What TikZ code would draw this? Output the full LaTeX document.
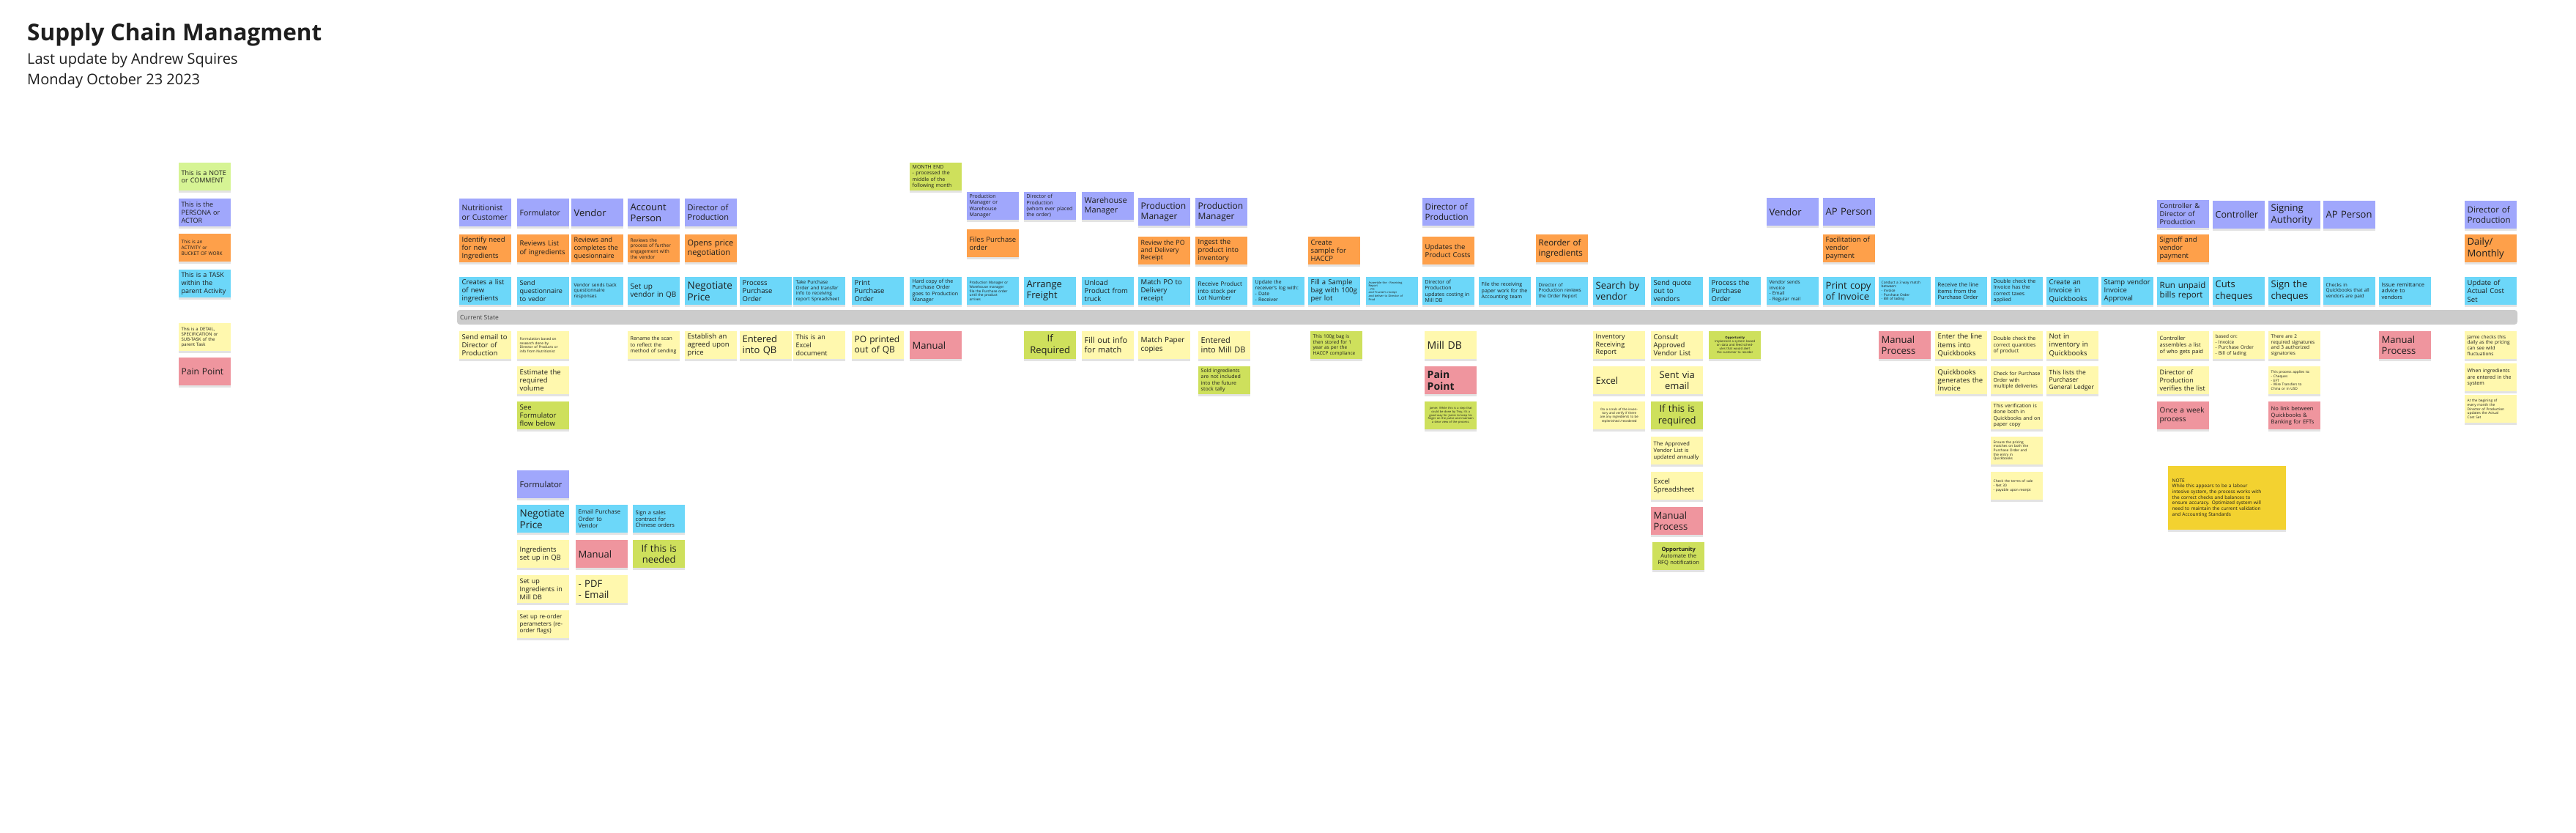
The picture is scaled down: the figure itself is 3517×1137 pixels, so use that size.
\documentclass[tikz,border=0pt]{standalone}
\usepackage{fontspec}
\setmainfont{Open Sans}
\usetikzlibrary{shadows}

\definecolor{personaC}{RGB}{160,167,252}
\definecolor{activityC}{RGB}{254,160,74}
\definecolor{taskC}{RGB}{108,215,249}
\definecolor{detailC}{RGB}{255,248,174}
\definecolor{noteC}{RGB}{206,224,92}
\definecolor{legnoteC}{RGB}{214,244,148}
\definecolor{painC}{RGB}{239,149,158}
\definecolor{barC}{RGB}{204,204,204}
\definecolor{memoC}{RGB}{243,210,48}
\definecolor{inkC}{RGB}{30,30,30}

\newcommand\stickyfont[1]{\fontsize{#1pt}{\dimexpr #1pt*118/100\relax}\selectfont}

\begin{document}
\begin{tikzpicture}[x=1pt,y=-1pt,
  sticky/.style={anchor=north west,text width=64pt,minimum height=38pt,inner xsep=3.5pt,inner ysep=2pt,
    align=left,text=inkC,drop shadow={shadow xshift=0pt,shadow yshift=-2.5pt,opacity=.22}},
  fs/.style={font=\stickyfont{#1}},
  persona/.style={sticky,fill=personaC},
  activity/.style={sticky,fill=activityC},
  task/.style={sticky,fill=taskC},
  detail/.style={sticky,fill=detailC},
  note/.style={sticky,fill=noteC},
  pain/.style={sticky,fill=painC},
  mid/.style={align=center}]
  \useasboundingbox (0,0) rectangle (3517,1137);
  \fill[white] (0,0) rectangle (3517,1137);

  \node[anchor=base west,inner sep=0pt,text=inkC,font=\fontsize{31.5}{31.5}\selectfont\bfseries] (title) at (37,56) {Supply Chain Managment};
  \node[anchor=base west,inner sep=0pt,text=inkC,font=\fontsize{20}{20}\selectfont] (author) at (37,88) {Last update by Andrew Squires};
  \node[anchor=base west,inner sep=0pt,text=inkC,font=\fontsize{20}{20}\selectfont] (date) at (37,116) {Monday October 23 2023};

  % legend
  \node[sticky,fill=legnoteC,fs=9] (lnote) at (244,222) {This is a NOTE\\or COMMENT};
  \node[persona,fs=9] (lpersona) at (244,271) {This is the\\PERSONA or\\ACTOR};
  \node[activity,fs=6.5] (lactivity) at (244,319) {This is an\\ACTIVITY or\\BUCKET OF WORK};
  \node[task,fs=9] (ltask) at (244,368) {This is a TASK\\within the\\parent Activity};
  \node[detail,fs=6] (ldetail) at (244,441) {This is a DETAIL,\\SPECIFICATION or\\SUB-TASK of the\\parent Task};
  \node[pain,fs=12] (lpain) at (244,488) {Pain Point};

  % current state bar
  \fill[barC,rounded corners=4pt] (624,423) rectangle (3437,443);
  \node[anchor=west,inner sep=0pt,text=black!75,font=\stickyfont{8.5}] (state) at (628,433) {Current State};

  % personas
  \node[persona,fs=10.5] (p1) at (627,271) {Nutritionist\\or Customer};
  \node[persona,fs=10.5] (p2) at (706,271) {Formulator};
  \node[persona,fs=13] (p3) at (780,271) {Vendor};
  \node[persona,fs=13] (p4) at (857,271) {Account\\Person};
  \node[persona,fs=11] (p5) at (935,271) {Director of\\Production};
  \node[persona,fs=7] (p10) at (1320,262) {Production\\Manager or\\Warehouse\\Manager};
  \node[persona,fs=7] (p11) at (1398,262) {Director of\\Production\\(whom ever placed\\the order)};
  \node[persona,fs=11] (p12) at (1477,262) {Warehouse\\Manager};
  \node[persona,fs=12] (p13) at (1554,270) {Production\\Manager};
  \node[persona,fs=12] (p14) at (1632,270) {Production\\Manager};
  \node[persona,fs=11.5] (p18) at (1942,270) {Director of\\Production};
  \node[persona,fs=13] (p24) at (2412,270) {Vendor};
  \node[persona,fs=13] (p25) at (2489,270) {AP Person};
  \node[persona,fs=9.5] (p31) at (2945,273) {Controller \&\\Director of\\Production};
  \node[persona,fs=12.5] (p32) at (3021,274) {Controller};
  \node[persona,fs=13] (p33) at (3097,274) {Signing\\Authority};
  \node[persona,fs=13] (p34) at (3172,274) {AP Person};
  \node[persona,fs=11.5] (p37) at (3365,274) {Director of\\Production};

  % notes above the map
  \node[note,fs=7] (n9) at (1242,222) {MONTH END\\- processed the\\middle of the\\following month};

  % activities
  \node[activity,fs=9.5] (a1) at (627,320) {Identify need\\for new\\Ingredients};
  \node[activity,fs=9.5] (a2) at (706,320) {Reviews List\\of ingredients};
  \node[activity,fs=9] (a3) at (780,320) {Reviews and\\completes the\\quesionnaire};
  \node[activity,fs=6.5] (a4) at (857,320) {Reviews the\\process of further\\engagement with\\the vendor};
  \node[activity,fs=11] (a5) at (935,320) {Opens price\\negotiation};
  \node[activity,fs=9.5] (a10) at (1320,313) {Files Purchase\\order};
  \node[activity,fs=8.8] (a13) at (1554,323) {Review the PO\\and Delivery\\Receipt};
  \node[activity,fs=9.5] (a14) at (1632,323) {Ingest the\\product into\\inventory};
  \node[activity,fs=9.5] (a16) at (1786,323) {Create\\sample for\\HACCP};
  \node[activity,fs=9.5] (a18) at (1942,323) {Updates the\\Product Costs};
  \node[activity,fs=11.5] (a20) at (2097,320) {Reorder of\\ingredients};
  \node[activity,fs=9.5] (a25) at (2489,320) {Facilitation of\\vendor\\payment};
  \node[activity,fs=9.5] (a31) at (2945,320) {Signoff and\\vendor\\payment};
  \node[activity,fs=13] (a37) at (3365,320) {Daily/\\Monthly};

  % tasks
  \node[task,fs=9.5] (t1) at (627,378) {Creates a list\\of new\\ingredients};
  \node[task,fs=9] (t2) at (706,378) {Send\\questionnaire\\to vedor};
  \node[task,fs=6.5] (t3) at (780,378) {Vendor sends back\\questionnaire\\responses};
  \node[task,fs=10] (t4) at (857,378) {Set up\\vendor in QB};
  \node[task,fs=13.5] (t5) at (935,378) {Negotiate\\Price};
  \node[task,fs=9.5] (t6) at (1010,378) {Process\\Purchase\\Order};
  \node[task,fs=6.5] (t7) at (1083,378) {Take Purchase\\Order and transfer\\info to receiving\\report Spreadsheet};
  \node[task,fs=9.5] (t8) at (1163,378) {Print\\Purchase\\Order};
  \node[task,fs=7] (t9) at (1242,378) {Hard copy of the\\Purchase Order\\goes to Production\\Manager};
  \node[task,fs=4.8] (t10) at (1320,378) {Production Manager or\\Warehouse manager\\file the Purchase order\\until the product\\arrives};
  \node[task,fs=13] (t11) at (1398,378) {Arrange\\Freight};
  \node[task,fs=9.5] (t12) at (1477,378) {Unload\\Product from\\truck};
  \node[task,fs=9.5] (t13) at (1554,378) {Match PO to\\Delivery\\receipt};
  \node[task,fs=8] (t14) at (1632,378) {Receive Product\\into stock per\\Lot Number};
  \node[task,fs=6.8] (t15) at (1710,378) {Update the\\receiver's log with:\\- Date\\- Receiver};
  \node[task,fs=9.5] (t16) at (1786,378) {Fill a Sample\\bag with 100g\\per lot};
  \node[task,fs=3.9] (t17) at (1865,378) {Assemble the - Receiving\\Report\\- PO\\and Trucker's receipt\\and deliver to Director of\\Prod};
  \node[task,fs=7] (t18) at (1942,378) {Director of\\Production\\updates costing in\\Mill DB};
  \node[task,fs=7] (t19) at (2019,378) {File the receiving\\paper work for the\\Accounting team};
  \node[task,fs=6.5] (t20) at (2097,378) {Director of\\Production reviews\\the Order Report};
  \node[task,fs=13] (t21) at (2175,378) {Search by\\vendor};
  \node[task,fs=9.5] (t22) at (2254,378) {Send quote\\out to\\vendors};
  \node[task,fs=9.5] (t23) at (2333,378) {Process the\\Purchase\\Order};
  \node[task,fs=6.5] (t24) at (2412,378) {Vendor sends\\invoice\\- Email\\- Regular mail};
  \node[task,fs=13] (t25) at (2489,378) {Print copy\\of Invoice};
  \node[task,fs=4.8] (t26) at (2565,378) {Conduct a 3 way match\\between:\\- Invoice\\- Purchase Order\\- Bill of lading};
  \node[task,fs=7.5] (t27) at (2642,378) {Receive the line\\items from the\\Purchase Order};
  \node[task,fs=7] (t28) at (2718,378) {Double check the\\Invoice has the\\correct taxes\\applied};
  \node[task,fs=9.5] (t29) at (2794,378) {Create an\\Invoice in\\Quickbooks};
  \node[task,fs=9.5] (t30) at (2869,378) {Stamp vendor\\Invoice\\Approval};
  \node[task,fs=11.5] (t31) at (2945,378) {Run unpaid\\bills report};
  \node[task,fs=13] (t32) at (3021,378) {Cuts\\cheques};
  \node[task,fs=13] (t33) at (3097,378) {Sign the\\cheques};
  \node[task,fs=6.5] (t34) at (3172,378) {Checks in\\Quickbooks that all\\vendors are paid};
  \node[task,fs=7.5] (t35) at (3248,378) {Issue remittance\\advice to\\vendors};
  \node[task,fs=9.5] (t37) at (3365,378) {Update of\\Actual Cost\\Set};

  % details below the bar
  \node[detail,fs=9.5] (d1a) at (627,452) {Send email to\\Director of\\Production};
  \node[detail,fs=4.8] (d2a) at (706,452) {Formulation based on\\research done by\\Director of Products or\\info from Nutritionist};
  \node[detail,fs=9.5] (d2b) at (706,500) {Estimate the\\required\\volume};
  \node[note,fs=9.5] (d2c) at (706,548) {See\\Formulator\\flow below};
  \node[detail,fs=7] (d4a) at (857,452) {Rename the scan\\to reflect the\\method of sending};
  \node[detail,fs=9.5] (d5a) at (935,452) {Establish an\\agreed upon\\price};
  \node[detail,fs=13] (d6a) at (1010,452) {Entered\\into QB};
  \node[detail,fs=9] (d7a) at (1083,452) {This is an\\Excel\\document};
  \node[detail,fs=12] (d8a) at (1163,452) {PO printed\\out of QB};
  \node[pain,fs=13] (d9a) at (1242,452) {Manual};
  \node[note,fs=13,mid] (d11a) at (1398,452) {If\\Required};
  \node[detail,fs=11] (d12a) at (1477,452) {Fill out info\\for match};
  \node[detail,fs=10] (d13a) at (1554,452) {Match Paper\\copies};
  \node[detail,fs=11] (d14a) at (1636,452) {Entered\\into Mill DB};
  \node[note,fs=7] (d14b) at (1636,500) {Sold ingredients\\are not included\\into the future\\stock tally};
  \node[note,fs=6.5] (d16a) at (1789,452) {This 100g bag is\\then stored for 1\\year as per the\\HACCP compliance};
  \node[detail,fs=14] (d18a) at (1945,452) {Mill DB};
  \node[pain,fs=14,font=\stickyfont{14}\bfseries] (d18b) at (1945,500) {Pain\\Point};
  \node[note,fs=4,mid] (d18c) at (1945,548) {Jamie: While this is a step that could be done by Troy, it's a good way for Jamie to keep his finger on the pulse and maintain a clear view of the process.};
  \node[detail,fs=9] (d21a) at (2175,452) {Inventory\\Receiving\\Report};
  \node[detail,fs=13] (d21b) at (2175,500) {Excel};
  \node[detail,fs=4.4,mid] (d21c) at (2175,548) {Do a scrub of the inventory and verify if there are any ingredients to be replenished /reordered};
  \node[detail,fs=9.5] (d22a) at (2254,452) {Consult\\Approved\\Vendor List};
  \node[detail,fs=13,mid] (d22b) at (2254,500) {Sent via\\email};
  \node[note,fs=13,mid] (d22c) at (2254,548) {If this is\\required};
  \node[detail,fs=7.5] (d22d) at (2254,596) {The Approved\\Vendor List is\\updated annually};
  \node[detail,fs=9.5] (d22e) at (2254,644) {Excel\\Spreadsheet};
  \node[pain,fs=13] (d22f) at (2254,692) {Manual\\Process};
  \node[note,fs=7.5,mid] (d22g) at (2256,740) {\textbf{Opportunity}\\Automate the\\RFQ notification};
  \node[note,fs=4.3,mid] (d23a) at (2333,452) {\textbf{Opportunity}\\Implement a system based on data and feed schedules that would alert the customer to reorder};
  \node[pain,fs=13] (d26a) at (2565,452) {Manual\\Process};
  \node[detail,fs=9.5] (d27a) at (2642,452) {Enter the line\\items into\\Quickbooks};
  \node[detail,fs=9.5] (d27b) at (2642,500) {Quickbooks\\generates the\\Invoice};
  \node[detail,fs=7] (d28a) at (2718,452) {Double check the\\correct quantities\\of product};
  \node[detail,fs=7] (d28b) at (2718,500) {Check for Purchase\\Order with\\multiple deliveries};
  \node[detail,fs=7] (d28c) at (2718,548) {This verification is\\done both in\\Quickbooks and on\\paper copy};
  \node[detail,fs=4.8] (d28d) at (2718,596) {Ensure the pricing\\matches on both the\\Purchase Order and\\the entry in\\Quickbooks};
  \node[detail,fs=4.8] (d28e) at (2718,644) {Check the terms of sale\\- Net 30\\- payable upon receipt};
  \node[detail,fs=9.5] (d29a) at (2794,452) {Not in\\inventory in\\Quickbooks};
  \node[detail,fs=8.5] (d29b) at (2794,500) {This lists the\\Purchaser\\General Ledger};
  \node[detail,fs=7.5] (d31a) at (2945,452) {Controller\\assembles a list\\of who gets paid};
  \node[detail,fs=9] (d31b) at (2945,500) {Director of\\Production\\verifies the list};
  \node[pain,fs=10] (d31c) at (2945,548) {Once a week\\process};
  \node[detail,fs=6.5] (d32a) at (3021,452) {based on:\\- Invoice\\- Purchase Order\\- Bill of lading};
  \node[detail,fs=6.5] (d33a) at (3097,452) {There are 2\\required signatures\\and 3 authorized\\signatories};
  \node[detail,fs=4.8] (d33b) at (3097,500) {This process applies to:\\- Cheques\\- EFT\\- Wire Transfers to\\China or in USD};
  \node[pain,fs=7.5] (d33c) at (3097,548) {No link between\\Quickbooks \&\\Banking for EFTs};
  \node[pain,fs=13] (d35a) at (3248,452) {Manual\\Process};
  \node[detail,fs=6.5] (d37a) at (3365,452) {Jamie checks this\\daily as the pricing\\can see wild\\fluctuations};
  \node[detail,fs=7] (d37b) at (3365,496) {When ingredients\\are entered in the\\system};
  \node[detail,fs=4.8] (d37c) at (3365,539) {At the begining of\\every month the\\Director of Production\\updates the Actual\\Cost Set};

  % formulator flow
  \node[persona,fs=11] (fp) at (706,642) {Formulator};
  \node[task,fs=13.5] (ft1) at (706,689) {Negotiate\\Price};
  \node[task,fs=8] (ft2) at (786,689) {Email Purchase\\Order to\\Vendor};
  \node[task,fs=7.5] (ft3) at (864,689) {Sign a sales\\contract for\\Chinese orders};
  \node[detail,fs=9.5] (fd1) at (706,737) {Ingredients\\set up in QB};
  \node[pain,fs=13] (fd2) at (786,737) {Manual};
  \node[note,fs=13,mid] (fd3) at (864,737) {If this is\\needed};
  \node[detail,fs=9] (fd4) at (706,785) {Set up\\Ingredients in\\Mill DB};
  \node[detail,fs=13] (fd5) at (786,785) {- PDF\\- Email};
  \node[detail,fs=8] (fd6) at (706,833) {Set up re-order\\perameters (re-\\order flags)};

  % note box
  \node[sticky,fill=memoC,fs=6.5,text width=150pt,inner xsep=5.5pt,minimum height=87pt] (memo) at (2960,636) {NOTE\\While this appears to be a labour\\intesive system, the process works with\\the correct checks and balances to\\ensure accuracy. Optimized system will\\need to maintain the current validation\\and Accounting Standards};
\end{tikzpicture}
\end{document}
